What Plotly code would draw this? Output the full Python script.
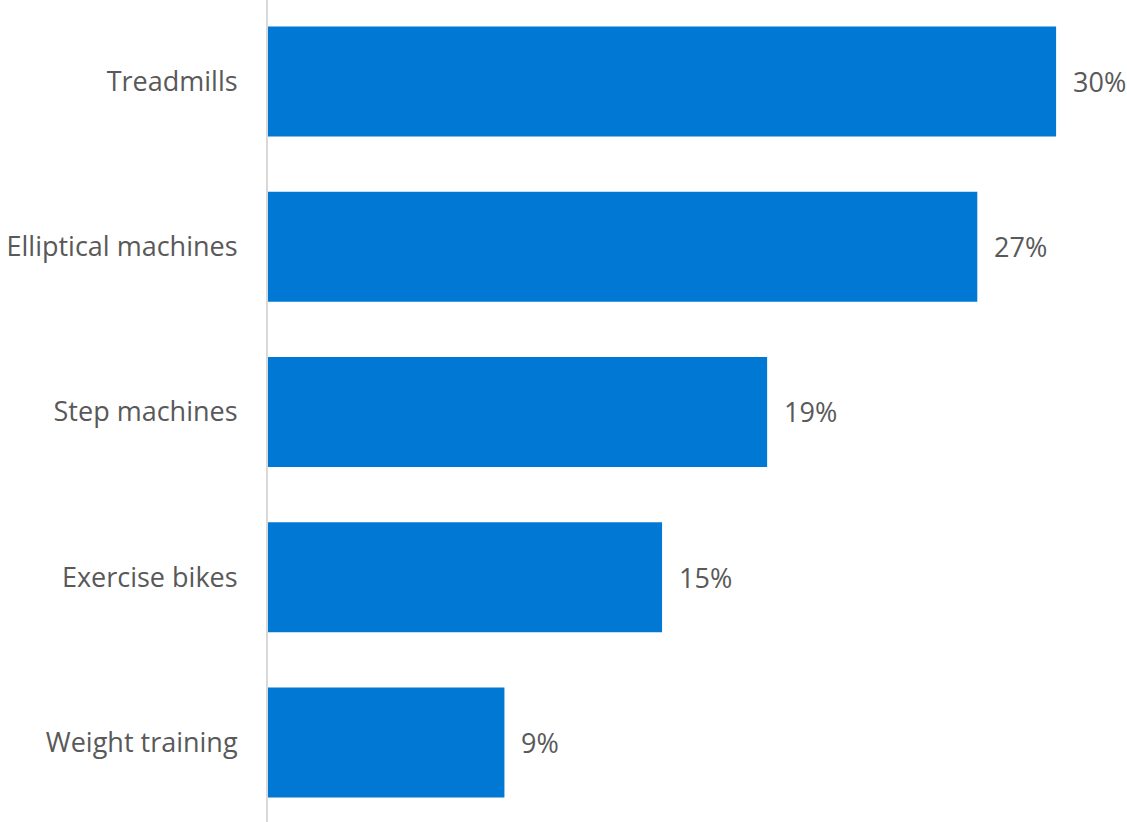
import plotly.graph_objects as go

categories = ["Treadmills", "Elliptical machines", "Step machines", "Exercise bikes", "Weight training"]
values = [30, 27, 19, 15, 9]
labels = [f"{v}%" for v in values]

fig = go.Figure(go.Bar(
    y=categories, x=values, orientation="h",
    marker=dict(color="#0078D4", line=dict(width=0)),
    hoverinfo="skip",
))
for c, v, t in zip(categories, values, labels):
    fig.add_annotation(x=v, y=c, text=t, showarrow=False, xanchor="left",
                       xshift=15, font=dict(size=27, color="#595959"))
fig.update_layout(
    width=1127, height=822,
    margin=dict(l=268, r=0, t=0, b=0),
    plot_bgcolor="white", paper_bgcolor="white",
    font=dict(family="Open Sans", size=27, color="#595959"),
    bargap=0.334, showlegend=False,
)
fig.update_xaxes(range=[0, 859/26.27], showgrid=False, zeroline=False,
                 showticklabels=False, ticks="")
fig.update_yaxes(range=[4.481, -0.493], showgrid=False, zeroline=False,
                 showline=True, linecolor="#d9d9d9", linewidth=2,
                 ticks="", ticklabelstandoff=23)
fig.write_html("out.html")
